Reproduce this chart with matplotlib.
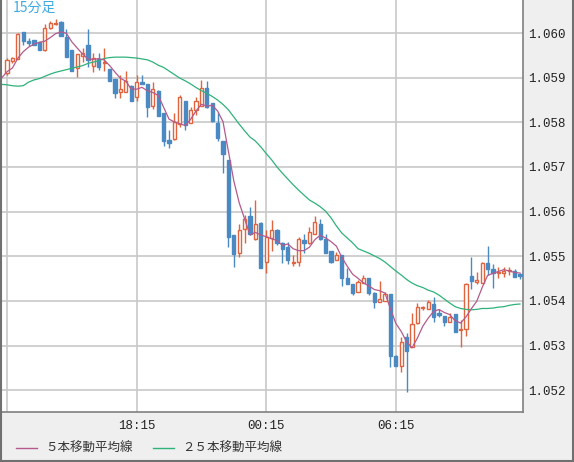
import matplotlib
matplotlib.use('Agg')
import matplotlib.pyplot as plt
from matplotlib.lines import Line2D
import numpy as np

title = '15分足'
tick_pos = [24, 48, 72]
tick_labels = ['18:15', '00:15', '06:15']
grid_x = [0, 24, 48, 72]
y_ticks = [1.052, 1.053, 1.054, 1.055, 1.056, 1.057, 1.058, 1.059, 1.060]
legend_labels = ['５本移動平均線', '２５本移動平均線']

opens = [1.05911, 1.05938, 1.05942, 1.06002, 1.05982, 1.05984, 1.05979, 1.05961, 1.06011, 1.06020,
         1.06024, 1.05992, 1.05962, 1.05921, 1.05949, 1.05973, 1.05927, 1.05941, 1.05932, 1.05919,
         1.05897, 1.05869, 1.05869, 1.05881, 1.05856, 1.05890, 1.05886, 1.05837, 1.05871, 1.05820,
         1.05760, 1.05762, 1.05796, 1.05848, 1.05799, 1.05828, 1.05837, 1.05876, 1.05843, 1.05798,
         1.05759, 1.05716, 1.05548, 1.05508, 1.05560, 1.05590, 1.05538, 1.05575, 1.05488, 1.05540,
         1.05559, 1.05530, 1.05521, 1.05484, 1.05488, 1.05536, 1.05529, 1.05549, 1.05572, 1.05538,
         1.05512, 1.05492, 1.05503, 1.05452, 1.05438, 1.05421, 1.05439, 1.05451, 1.05418, 1.05398,
         1.05400, 1.05415, 1.05277, 1.05255, 1.05318, 1.05296, 1.05350, 1.05385, 1.05382, 1.05393,
         1.05373, 1.05366, 1.05353, 1.05371, 1.05334, 1.05336, 1.05456, 1.05442, 1.05439, 1.05486,
         1.05471, 1.05462, 1.05462, 1.05466, 1.05467, 1.05460]
highs = [1.05944, 1.05946, 1.05999, 1.06003, 1.05988, 1.05985, 1.05980, 1.06020, 1.06028, 1.06031,
         1.06028, 1.06008, 1.05962, 1.05953, 1.05966, 1.06009, 1.05955, 1.05956, 1.05966, 1.05920,
         1.05897, 1.05906, 1.05915, 1.05884, 1.05906, 1.05906, 1.05886, 1.05891, 1.05872, 1.05821,
         1.05783, 1.05822, 1.05861, 1.05848, 1.05835, 1.05857, 1.05895, 1.05893, 1.05844, 1.05820,
         1.05759, 1.05716, 1.05548, 1.05572, 1.05592, 1.05610, 1.05626, 1.05576, 1.05559, 1.05581,
         1.05560, 1.05533, 1.05533, 1.05503, 1.05544, 1.05549, 1.05566, 1.05590, 1.05583, 1.05550,
         1.05512, 1.05510, 1.05503, 1.05473, 1.05438, 1.05447, 1.05458, 1.05452, 1.05419, 1.05445,
         1.05421, 1.05416, 1.05278, 1.05320, 1.05327, 1.05374, 1.05395, 1.05389, 1.05402, 1.05409,
         1.05381, 1.05366, 1.05372, 1.05371, 1.05357, 1.05439, 1.05498, 1.05465, 1.05488, 1.05524,
         1.05483, 1.05477, 1.05475, 1.05475, 1.05471, 1.05462]
lows = [1.05907, 1.05932, 1.05941, 1.05973, 1.05971, 1.05973, 1.05962, 1.05960, 1.06010, 1.06018,
        1.05993, 1.05946, 1.05915, 1.05901, 1.05936, 1.05925, 1.05913, 1.05917, 1.05915, 1.05892,
        1.05854, 1.05854, 1.05868, 1.05847, 1.05848, 1.05885, 1.05811, 1.05829, 1.05814, 1.05747,
        1.05743, 1.05760, 1.05789, 1.05783, 1.05798, 1.05816, 1.05836, 1.05831, 1.05801, 1.05759,
        1.05687, 1.05520, 1.05475, 1.05499, 1.05530, 1.05548, 1.05536, 1.05474, 1.05463, 1.05512,
        1.05525, 1.05484, 1.05483, 1.05479, 1.05479, 1.05507, 1.05528, 1.05549, 1.05537, 1.05507,
        1.05484, 1.05491, 1.05433, 1.05437, 1.05413, 1.05420, 1.05439, 1.05413, 1.05385, 1.05397,
        1.05399, 1.05253, 1.05254, 1.05241, 1.05197, 1.05296, 1.05349, 1.05380, 1.05381, 1.05353,
        1.05365, 1.05344, 1.05352, 1.05330, 1.05297, 1.05321, 1.05427, 1.05438, 1.05439, 1.05458,
        1.05430, 1.05451, 1.05454, 1.05458, 1.05453, 1.05448]
closes = [1.05940, 1.05943, 1.05998, 1.05983, 1.05978, 1.05974, 1.05963, 1.06011, 1.06022, 1.06023,
          1.05994, 1.05947, 1.05916, 1.05952, 1.05955, 1.05939, 1.05943, 1.05925, 1.05936, 1.05893,
          1.05865, 1.05874, 1.05893, 1.05848, 1.05891, 1.05886, 1.05835, 1.05874, 1.05815, 1.05759,
          1.05754, 1.05801, 1.05856, 1.05794, 1.05828, 1.05848, 1.05876, 1.05835, 1.05804, 1.05764,
          1.05728, 1.05544, 1.05504, 1.05559, 1.05583, 1.05549, 1.05572, 1.05474, 1.05542, 1.05559,
          1.05529, 1.05516, 1.05492, 1.05488, 1.05538, 1.05529, 1.05554, 1.05576, 1.05538, 1.05508,
          1.05488, 1.05503, 1.05452, 1.05438, 1.05418, 1.05442, 1.05452, 1.05418, 1.05398, 1.05404,
          1.05415, 1.05277, 1.05255, 1.05307, 1.05288, 1.05348, 1.05386, 1.05387, 1.05398, 1.05363,
          1.05369, 1.05353, 1.05363, 1.05330, 1.05337, 1.05438, 1.05445, 1.05447, 1.05484, 1.05471,
          1.05462, 1.05465, 1.05468, 1.05469, 1.05454, 1.05456]
prev_closes = [1.05869, 1.05902, 1.05889, 1.05909, 1.05927]
# 25-bar moving average, starting one bar before the first candle
ma25 = [1.05885, 1.05884, 1.05882, 1.05881, 1.05882, 1.05890, 1.05895, 1.05898, 1.05903, 1.05908, 1.05912,
        1.05915, 1.05918, 1.05921, 1.05924, 1.05927, 1.05932, 1.05935, 1.05938, 1.05943, 1.05945,
        1.05946, 1.05946, 1.05946, 1.05945, 1.05944, 1.05942, 1.05940, 1.05935, 1.05928, 1.05923,
        1.05915, 1.05907, 1.05899, 1.05893, 1.05886, 1.05878, 1.05871, 1.05865, 1.05858, 1.05850,
        1.05840, 1.05828, 1.05812, 1.05796, 1.05781, 1.05767, 1.05758, 1.05745, 1.05730, 1.05716,
        1.05700, 1.05686, 1.05673, 1.05660, 1.05648, 1.05637, 1.05626, 1.05619, 1.05611, 1.05601,
        1.05586, 1.05568, 1.05552, 1.05541, 1.05530, 1.05517, 1.05512, 1.05507, 1.05501, 1.05495,
        1.05487, 1.05477, 1.05467, 1.05458, 1.05448, 1.05440, 1.05434, 1.05430, 1.05424, 1.05420,
        1.05413, 1.05404, 1.05395, 1.05387, 1.05383, 1.05381, 1.05380, 1.05381, 1.05383, 1.05383,
        1.05384, 1.05386, 1.05387, 1.05390, 1.05392, 1.05393]

UP = '#e0643e'
DOWN = '#4a89c2'
MA5_C = '#b45a8c'
MA25_C = '#2eb27a'
BG = '#efefef'
GRID = '#c8c8c8'
CJK = ['Noto Sans CJK JP', 'DejaVu Sans']
MONO = 'Liberation Mono'

W, H = 574, 462
fig = plt.figure(figsize=(W / 100, H / 100), dpi=100, facecolor=BG)
ax = fig.add_axes([1 / W, (H - 412) / H, 522 / W, 412 / H])
ax.set_facecolor('white')

o = np.array(opens); h = np.array(highs); l = np.array(lows); c = np.array(closes)
x = np.arange(len(o))
up = c >= o

# wicks
ax.vlines(x[up], l[up], h[up], color=UP, lw=1, zorder=2)
ax.vlines(x[~up], l[~up], h[~up], color=DOWN, lw=1, zorder=2)
bw = 0.6
ax.bar(x[up], np.abs(c - o)[up], bottom=np.minimum(o, c)[up], width=bw,
       facecolor='white', edgecolor=UP, linewidth=1, zorder=3)
ax.bar(x[~up], np.abs(c - o)[~up], bottom=np.minimum(o, c)[~up], width=bw,
       facecolor=DOWN, edgecolor=DOWN, linewidth=1, zorder=3)

allc = np.array(prev_closes + closes)
ma5 = np.convolve(allc, np.ones(5) / 5, mode='valid')
xm = np.arange(-1, len(o))
ax.plot(xm, ma25, color=MA25_C, lw=0.9, zorder=4)
ax.plot(xm, ma5, color=MA5_C, lw=0.9, zorder=4)

ax.set_xlim(-6 / 5.4, 516 / 5.4)
ax.set_ylim(1.06074 - 412 * 0.0000224, 1.06074)

ax.set_yticks(y_ticks)
ax.set_yticklabels(['%.3f' % v for v in y_ticks], fontfamily=MONO, fontsize=9, color='#222222')
ax.yaxis.tick_right()
ax.set_xticks(grid_x)
ax.set_xticklabels([''] + tick_labels, fontfamily=MONO, fontsize=9, color='#222222')
ax.tick_params(axis='both', length=0)
ax.tick_params(axis='y', pad=4)
ax.tick_params(axis='x', pad=6)
ax.grid(True, color=GRID, lw=1.2, zorder=0)
ax.set_axisbelow(True)

for s in ['top', 'left']:
    ax.spines[s].set_visible(False)
for s in ['right', 'bottom']:
    ax.spines[s].set_color('#808080')
    ax.spines[s].set_linewidth(1.2)

ax.text(12 / 522, 1 - 1 / 412, title, transform=ax.transAxes, ha='left', va='top',
        fontsize=10, color='#3daae2', family=CJK)

# figure border (left, right, bottom)
bc = '#707070'
fig.add_artist(Line2D([0.5 / W, 0.5 / W], [0, 1], color=bc, lw=1.5, transform=fig.transFigure))
fig.add_artist(Line2D([1 - 1 / W, 1 - 1 / W], [0, 1], color=bc, lw=1.5, transform=fig.transFigure))
fig.add_artist(Line2D([0, 1], [1 / H, 1 / H], color=bc, lw=1.5, transform=fig.transFigure))

# legend
ly = 1 - 448 / H
for (x0, x1, tx), col, lab in zip([(16, 37, 45), (153, 174, 182)], [MA5_C, MA25_C], legend_labels):
    fig.add_artist(Line2D([x0 / W, x1 / W], [ly, ly], color=col, lw=1, transform=fig.transFigure))
    fig.text(tx / W, ly, lab, ha='left', va='center', fontsize=9, color='#333333', family=CJK)

fig.savefig('out.png', dpi=100, facecolor=BG)
